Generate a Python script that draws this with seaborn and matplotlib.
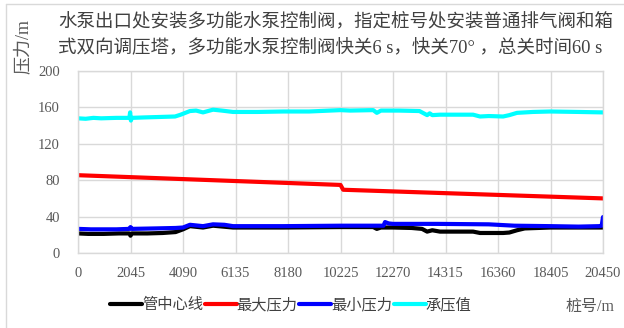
import numpy as np
import pandas as pd
import seaborn as sns
import matplotlib.pyplot as plt
from matplotlib.lines import Line2D

sns.set_theme(style="white")
plt.rcParams['font.family'] = ['Liberation Serif', 'Noto Sans CJK SC', 'DejaVu Sans']

# ---- data -------------------------------------------------------------
series_names = ["管中心线", "最大压力", "最小压力", "承压值"]
series_colors = ["#000000", "#FF0000", "#0000FF", "#00FFFF"]

centre_station = [0, 400, 1000, 1600, 2000, 2045, 2100, 2700, 3300, 3800, 4090,
                  4360, 4870, 5260, 6040, 8000, 10225, 11500, 11640, 11800, 12270,
                  13000, 13400, 13600, 13800, 14100, 15000, 15390, 15660, 16560,
                  16800, 17100, 17400, 18405, 20450]
centre_head = [21.5, 21, 21, 21.5, 21.5, 19, 21.5, 21.5, 22, 23, 26,
               29.5, 28, 30, 28, 28, 28.5, 28.5, 26.5, 28, 28,
               27.5, 26.5, 23.5, 25, 23.5, 23.5, 23.5, 22, 22,
               22.5, 25, 27, 28, 28]

max_station = [0, 10225, 10330, 20450]
max_head = [85.5, 74.8, 69.5, 60]

min_station = [0, 500, 1500, 2000, 2045, 2100, 3000, 3800, 4090, 4360, 4870,
               5260, 5700, 6040, 8000, 10225, 11500, 11900, 11960, 12100, 12270,
               14000, 16000, 17000, 18405, 19500, 20300, 20400, 20450]
min_head = [26.5, 26, 26, 26.5, 28.5, 26.5, 27, 27.5, 28, 31, 29.5,
            31.5, 31, 29.5, 29.5, 30, 30, 30, 34, 32.5, 32,
            32, 31.5, 30, 29.5, 29, 29.5, 30, 39.5]

bearing_station = [0, 300, 600, 900, 1500, 2000, 2030, 2060, 2100, 2600, 3200,
                   3780, 4000, 4360, 4600, 4870, 5260, 5600, 6040, 7000, 8000,
                   9000, 10225, 10600, 11500, 11640, 11800, 12500, 13300, 13600,
                   13700, 13800, 14100, 15000, 15390, 15660, 16000, 16560, 16800,
                   17100, 17720, 18400, 19500, 20450]
bearing_head = [148, 147.5, 148.5, 148, 148.5, 148.5, 154.5, 145.5, 148.5, 149, 149.5,
                150, 152, 156, 156.5, 154.5, 157.5, 156.5, 155, 155, 155.5,
                155.5, 157, 156.5, 157, 154, 156.5, 156.5, 156, 151.5,
                153.5, 151.5, 152, 152, 152, 150, 150.5, 150, 151.5,
                154, 155, 155.5, 155, 154.5]

x_ticks = [0, 2045, 4090, 6135, 8180, 10225, 12270, 14315, 16360, 18405, 20450]
y_ticks = [0, 40, 80, 120, 160, 200]

title_lines = ["水泵出口处安装多功能水泵控制阀，指定桩号处安装普通排气阀和箱",
               "式双向调压塔，多功能水泵控制阀快关6 s，快关70° ，总关时间60 s"]

frames = []
for name, st, hd in zip(series_names,
                        [centre_station, max_station, min_station, bearing_station],
                        [centre_head, max_head, min_head, bearing_head]):
    frames.append(pd.DataFrame({"桩号": st, "压力": hd, "曲线": name}))
df = pd.concat(frames, ignore_index=True)

# ---- figure -----------------------------------------------------------
W, H = 624, 328
fig = plt.figure(figsize=(W / 100, H / 100), dpi=100)
fig.patch.set_facecolor("white")

left, right, top, bottom = 78, 603, 71, 253
ax = fig.add_axes([left / W, 1 - bottom / H, (right - left) / W, (bottom - top) / H])

sns.lineplot(data=df, x="桩号", y="压力", hue="曲线", hue_order=series_names,
             palette=dict(zip(series_names, series_colors)), sort=False,
             estimator=None, linewidth=3, ax=ax, legend=True)

grid_c = "#d9d9d9"
ax.set_xlim(x_ticks[0], x_ticks[-1])
ax.set_ylim(y_ticks[0], y_ticks[-1])
ax.set_xticks(x_ticks)
ax.set_yticks(y_ticks)
ax.set_xticklabels([str(v) for v in x_ticks])
ax.set_yticklabels([str(v) for v in y_ticks])
ax.grid(True, color=grid_c, linewidth=1)
ax.set_axisbelow(True)
for s in ax.spines.values():
    s.set_color(grid_c)
    s.set_linewidth(1)
ax.tick_params(axis="both", length=0, labelsize=10.5, colors="#595959")
ax.tick_params(axis="y", pad=13)
ax.tick_params(axis="x", pad=10)
ax.set_xlabel("")
ax.set_ylabel("")

handles, labels = ax.get_legend_handles_labels()
ax.get_legend().remove()
for h in handles:
    h.set_linewidth(3)
fig.legend(handles, labels, loc="center left",
           bbox_to_anchor=(110 / W, 1 - 305 / H), bbox_transform=fig.transFigure,
           ncol=4, frameon=False, handlelength=2.1, handletextpad=0.0,
           columnspacing=0.1, borderpad=0, borderaxespad=0,
           prop={"size": 11}, labelcolor="#404040")

# titles and axis names
text_c = "#404040"
fig.text(58 / W, 1 - 21 / H, title_lines[0], ha="left", va="center", size=13.3, color=text_c)
fig.text(58 / W, 1 - 48 / H, title_lines[1], ha="left", va="center", size=13.3, color=text_c)
fig.text(23 / W, 1 - 46 / H, "压力/m", rotation=90, ha="center", va="center",
         size=13, color="#595959")
fig.text(615 / W, 1 - 307 / H, "桩号/m", ha="right", va="center", size=11.5, color="#595959")

# chart-area frame
fig.add_artist(Line2D([6 / W, 6 / W], [0, 1 - 4 / H], color=grid_c, lw=1,
                      transform=fig.transFigure))
fig.add_artist(Line2D([6 / W, 1], [1 - 4 / H, 1 - 4 / H], color=grid_c, lw=1,
                      transform=fig.transFigure))

fig.savefig("out.png", dpi=100, facecolor="white")
